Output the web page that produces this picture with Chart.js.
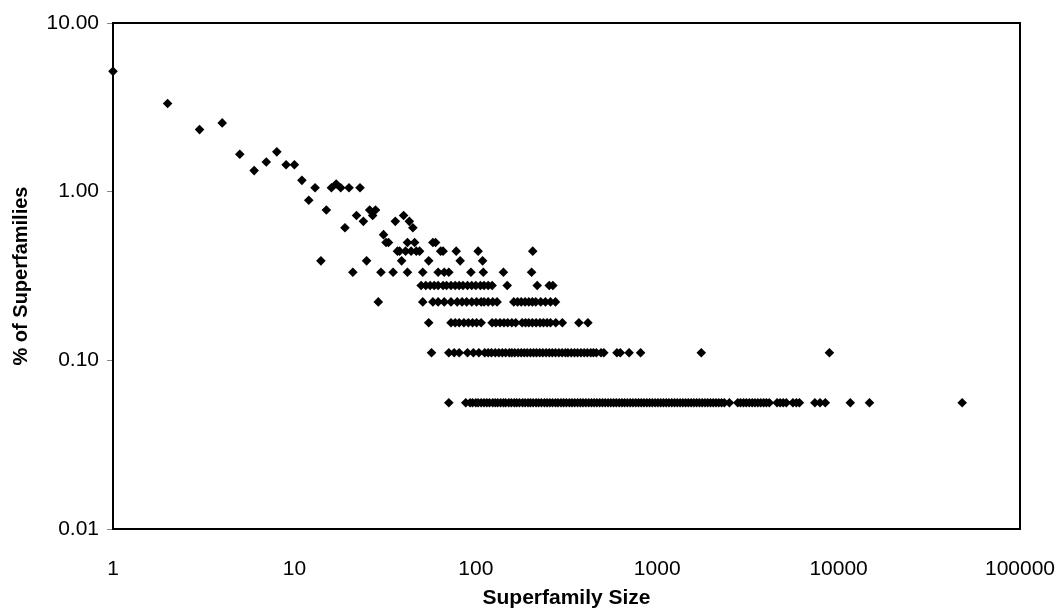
<!DOCTYPE html>
<html>
<head>
<meta charset="utf-8">
<script src="https://cdn.jsdelivr.net/npm/chart.js@4.4.1/dist/chart.umd.min.js"></script>
<style>
  html, body { margin: 0; padding: 0; background: #fff; }
</style>
</head>
<body>
<canvas id="myChart" width="1061" height="613"></canvas>
<script>
// % of superfamilies at each level (one entry per horizontal row of points)
const pctLevels = [
  5.167, 3.333, 2.556, 2.333, 1.722, 1.667, 1.500, 1.444, 1.333, 1.167, 1.111, 1.056,
  0.889, 0.778, 0.722, 0.667, 0.611, 0.556, 0.500, 0.444, 0.389, 0.333, 0.278,
  0.222, 0.167, 0.111, 0.056
];

// superfamily sizes found at each of those levels
const sizeGroups = [
  [1],
  [2],
  [4],
  [3],
  [8],
  [5],
  [7],
  [9, 10],
  [6],
  [11],
  [17],
  [13, 16, 18, 20, 23],
  [12],
  [15, 26, 28],
  [22, 27, 40],
  [24, 36, 43],
  [19, 45],
  [31],
  [32, 33, 42, 46, 58, 60],
  [37, 38, 41, 44, 47, 49, 64, 66, 78, 103, 206],
  [14, 25, 39, 55, 82, 109],
  [21, 30, 35, 42, 51, 62, 67, 71, 94, 110, 142, 203],
  [50, 53, 56, 59, 62, 66, 69, 73, 77, 81, 85, 90, 95, 100, 106, 111, 117, 123, 149, 218, 254, 266],
  [29, 51, 58, 62, 67, 73, 79, 84, 89, 95, 101, 107, 111, 117, 124, 131, 162, 170, 178, 187, 196, 205, 214, 228, 242, 258, 275],
  [55, 73, 77, 81, 86, 91, 96, 101, 107, 123, 129, 136, 143, 150, 158, 166, 180, 188, 196, 205, 215, 226, 236, 247, 258, 276, 300, 370, 415],
  [57, 71, 76, 81, 90, 97, 104, 112, 117, 122, 128, 134, 140, 146, 153, 158, 164, 171, 178, 185, 192, 200, 208, 216, 225, 234, 244, 254, 264, 275, 287, 299, 312, 322, 336, 350, 364, 380, 396, 412, 430, 445, 462, 490, 508, 600, 626, 700, 810, 1750, 8900],
  [71, 88, 93, 96, 100, 103, 107, 111, 115, 119, 124, 128, 132, 137, 142, 146, 152, 157, 163, 168, 174, 181, 187, 194, 200, 207, 215, 222, 230, 239, 247, 256, 265, 275, 284, 295, 305, 316, 328, 339, 351, 364, 377, 390, 404, 419, 434, 449, 465, 482, 499, 517, 536, 555, 575, 595, 617, 639, 661, 685, 710, 735, 762, 789, 817, 846, 877, 908, 940, 974, 1009, 1045, 1082, 1121, 1161, 1203, 1246, 1290, 1337, 1384, 1434, 1485, 1538, 1593, 1650, 1709, 1770, 1834, 1899, 1967, 2037, 2110, 2186, 2264, 2345, 2500, 2780, 2880, 2990, 3100, 3220, 3340, 3460, 3590, 3720, 3860, 4000, 4150, 4580, 4760, 4950, 5150, 5600, 5850, 6080, 7400, 7900, 8450, 11600, 14800, 48000]
];

const xTicks = [1, 10, 100, 1000, 10000, 100000];
const yTicks = [0.01, 0.1, 1, 10];

var points = [];
sizeGroups.forEach(function (group, i) {
  group.forEach(function (s) {
    points.push({ x: s, y: pctLevels[i] });
  });
});

// plot frame (box round the chart area), drawn under the points
const frame = {
  id: 'frame',
  beforeDatasetsDraw(chart) {
    const { ctx, chartArea: a } = chart;
    ctx.save();
    ctx.strokeStyle = '#000';
    ctx.lineWidth = 2;
    ctx.strokeRect(a.left, a.top, a.right - a.left, a.bottom - a.top);
    ctx.restore();
  }
};

Chart.defaults.font.family = "'Liberation Sans', Arial, sans-serif";
Chart.defaults.font.size = 21;
Chart.defaults.color = '#000';

var x = new Chart("myChart", {
  type: "scatter",
  data: {
    datasets: [{
      data: points,
      pointStyle: 'rectRot',
      pointRadius: 4.8,
      borderWidth: 0,
      backgroundColor: '#000',
      clip: false
    }]
  },
  options: {
    responsive: false,
    animation: false,
    events: [],
    layout: { padding: { top: 23, right: 41, left: 0, bottom: 0 } },
    plugins: {
      legend: { display: false },
      tooltip: { enabled: false }
    },
    scales: {
      x: {
        type: 'logarithmic',
        min: 1,
        max: 100000,
        afterBuildTicks: function (scale) {
          scale.ticks = xTicks.map(function (v) { return { value: v }; });
        },
        afterFit: function (scale) {
          scale.height = 84;
          scale.paddingLeft = 0;
          scale.paddingRight = 0;
        },
        grid: { display: false },
        border: { display: false },
        ticks: {
          padding: 20,
          maxRotation: 0,
          autoSkip: false,
          callback: function (v) { return String(v); }
        },
        title: {
          display: true,
          text: 'Superfamily Size',
          font: { size: 21, weight: 'bold' },
          padding: { top: 0, bottom: 2 }
        }
      },
      y: {
        type: 'logarithmic',
        min: 0.01,
        max: 10,
        afterBuildTicks: function (scale) {
          scale.ticks = yTicks.map(function (v) { return { value: v }; });
        },
        afterFit: function (scale) {
          scale.width = 113;
          scale.paddingTop = 0;
          scale.paddingBottom = 0;
        },
        grid: {
          display: true,
          drawOnChartArea: false,
          drawTicks: true,
          tickLength: 6,
          color: '#888',
          lineWidth: 1
        },
        border: { display: false },
        ticks: {
          padding: 8,
          autoSkip: false,
          callback: function (v) { return Number(v).toFixed(2); }
        },
        title: {
          display: true,
          text: '% of Superfamilies',
          font: { size: 20, weight: 'bold' },
          padding: { top: 9, bottom: 0 }
        }
      }
    }
  },
  plugins: [frame]
});
</script>
</body>
</html>
